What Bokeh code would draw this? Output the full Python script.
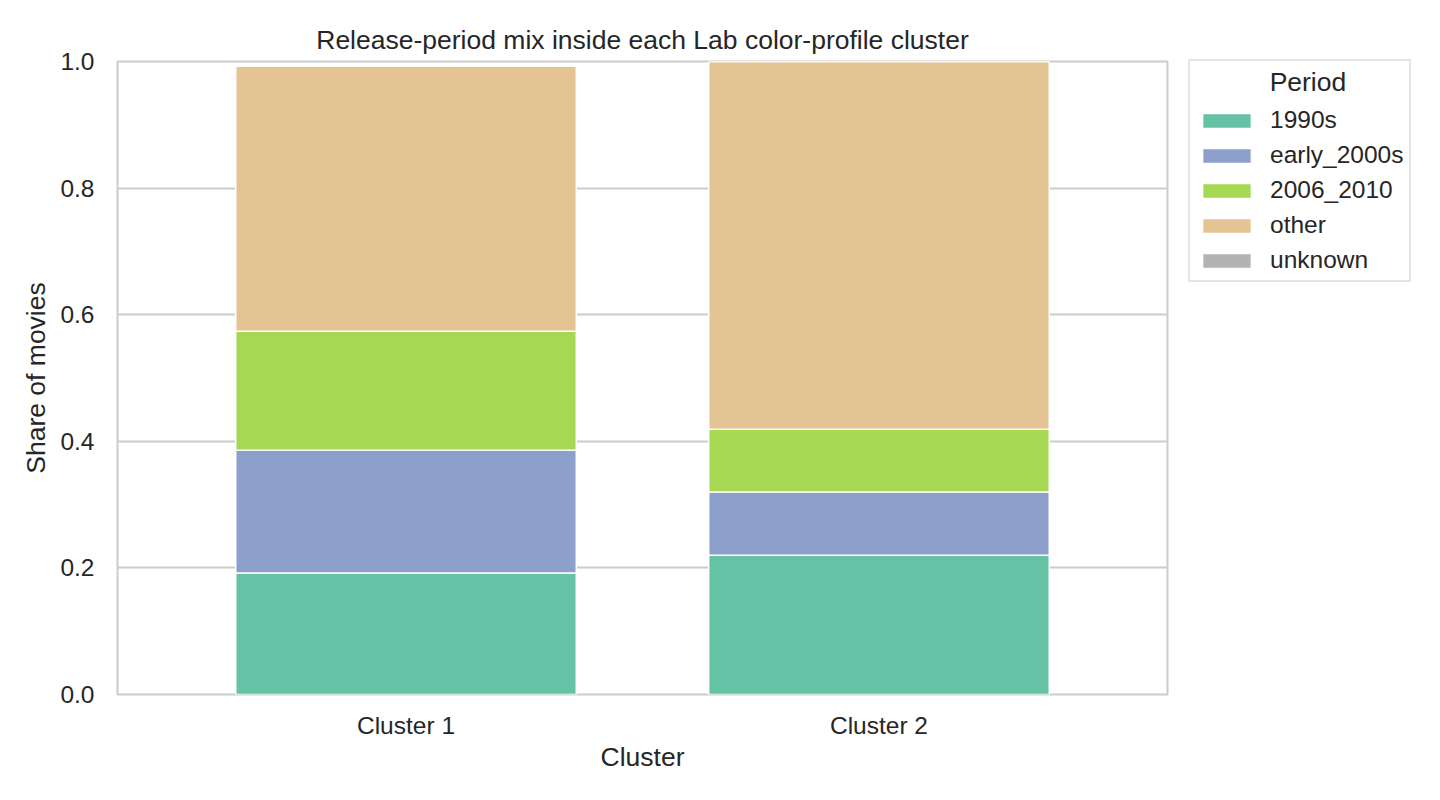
from bokeh.plotting import figure
from bokeh.models import ColumnDataSource, FactorRange, Legend, LegendItem, FixedTicker, NumeralTickFormatter
from bokeh.embed import file_html
from bokeh.resources import INLINE

# dados
clusters = ["Cluster 1", "Cluster 2"]
periods = ["1990s", "early_2000s", "2006_2010", "other", "unknown"]
share_1990s = [0.192, 0.220]
share_early_2000s = [0.194, 0.100]
share_2006_2010 = [0.188, 0.099]
share_other = [0.419, 0.581]
share_unknown = [0.0, 0.0]
colors = ["#66c2a5", "#8da0cb", "#a6d854", "#e5c494", "#b3b3b3"]
y_ticks = [0.0, 0.2, 0.4, 0.6, 0.8, 1.0]

FONT = "Liberation Sans"
TXT = "#262626"
GRAY = "#cccccc"

source = ColumnDataSource(dict(
    cluster=clusters,
    p1990s=share_1990s,
    early=share_early_2000s,
    p2006=share_2006_2010,
    other=share_other,
    unknown=share_unknown,
))
cols = ["p1990s", "early", "p2006", "other", "unknown"]

p = figure(
    x_range=FactorRange(*clusters, range_padding=0.11, range_padding_units="absolute"),
    y_range=(0, 1),
    frame_width=1050, frame_height=633,
    min_border_left=117, min_border_top=61, min_border_right=250, min_border_bottom=90,
    output_backend="svg", toolbar_location=None,
    title="Release-period mix inside each Lab color-profile cluster",
)

renderers = p.vbar_stack(cols, x="cluster", width=0.72, color=colors,
                         line_color="white", line_width=1.5, source=source)

# título
p.title.align = "center"
p.title.text_font = FONT
p.title.text_font_size = "26.5px"
p.title.text_font_style = "normal"
p.title.text_color = TXT
p.title.standoff = 14

# moldura e grade
p.outline_line_color = GRAY
p.outline_line_width = 2
p.xgrid.grid_line_color = None
p.ygrid.grid_line_color = GRAY
p.ygrid.grid_line_width = 2
p.yaxis.ticker = FixedTicker(ticks=y_ticks)
p.yaxis.formatter = NumeralTickFormatter(format="0.0")

for ax in (p.xaxis[0], p.yaxis[0]):
    ax.axis_line_color = None
    ax.major_tick_line_color = None
    ax.minor_tick_line_color = None
    ax.major_tick_out = 0
    ax.major_tick_in = 0
    ax.major_label_text_font = FONT
    ax.major_label_text_font_size = "24.5px"
    ax.major_label_text_color = TXT
    ax.axis_label_text_font = FONT
    ax.axis_label_text_font_size = "26.5px"
    ax.axis_label_text_font_style = "normal"
    ax.axis_label_text_color = TXT

p.xaxis.axis_label = "Cluster"
p.yaxis.axis_label = "Share of movies"
p.xaxis.major_label_standoff = 17
p.yaxis.major_label_standoff = 23
p.xaxis.axis_label_standoff = 0
p.yaxis.axis_label_standoff = 6

# legenda fora do gráfico, à direita
# (o glifo da legenda ocupa 80% da área, por isso 61x19)
items = [LegendItem(label=per, renderers=[r]) for per, r in zip(periods, renderers)]
legend = Legend(
    items=items, location=(21, 412),
    title="\u00a0" * 10 + "Period",
    title_text_font=FONT, title_text_font_size="26.5px", title_text_font_style="normal",
    title_text_color=TXT, title_standoff=8,
    label_text_font=FONT, label_text_font_size="24.5px", label_text_color=TXT,
    glyph_width=61, glyph_height=19, label_standoff=13, spacing=7,
    padding=6, margin=0,
    border_line_color=GRAY, border_line_width=2,
)
p.add_layout(legend, "right")

open("out.html", "w").write(file_html(p, INLINE))
